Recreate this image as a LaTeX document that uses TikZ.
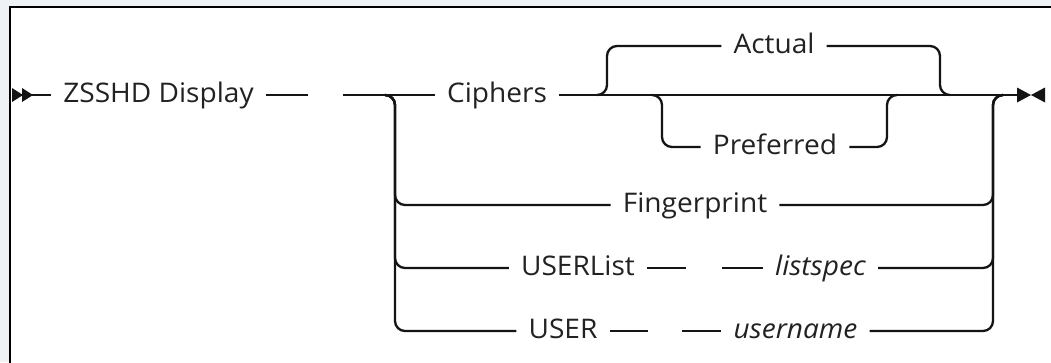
\documentclass[tikz,border=0pt]{standalone}
\usepackage{fontspec}
\setmainfont{Open Sans}[FakeStretch=1.04]
\definecolor{pagebg}{HTML}{EEF2F5}
\definecolor{railc}{HTML}{141414}
\definecolor{labelc}{HTML}{222222}

\begin{document}
% anchors such as "mid" are measured in the surrounding font
\fontsize{27}{31}\selectfont
\begin{tikzpicture}[x=1pt,y=-1pt,
  rail/.style={line width=2.3pt, draw=railc, rounded corners=10pt},
  kw/.style={anchor=mid, inner xsep=12pt, inner ysep=0pt, text=labelc,
    font=\fontsize{27}{31}\selectfont},
  var/.style={kw, font=\fontsize{27}{31}\selectfont\itshape},
  tip/.style={fill=railc}]
\useasboundingbox (0,0) rectangle (1051,362);
\clip (0,0) rectangle (1051,362);
\fill[pagebg] (0,0) rectangle (1051,362);
\draw[line width=2.8pt, fill=white] (10,7) rectangle (1080,400);

% labels
\node[kw]  (disp) at (158.5,95) {ZSSHD Display};
\node[kw]  (ciph) at (497,95)   {Ciphers};
\node[kw]  (act)  at (774,46)   {Actual};
\node[kw]  (pref) at (775,147)  {Preferred};
\node[kw]  (fp)   at (695,205)  {Fingerprint};
\node[kw]  (ul)   at (578,268)  {USERList};
\node[var] (ls)   at (820.5,268){listspec};
\node[kw]  (us)   at (563,331)  {USER};
\node[var] (un)   at (795.5,331){username};

% junction points
\coordinate (st)   at (31,95);
\coordinate (d1)   at (308,95);
\coordinate (m0)   at (343,95);
\coordinate (fork) at (385,95);
\coordinate (lcol) at (395,95);
\coordinate (rcol) at (993,95);
\coordinate (join) at (1003,95);
\coordinate (fin)  at (1017,95);
\coordinate (aF) at (597,95);
\coordinate (aL) at (607,95);
\coordinate (aR) at (940,95);
\coordinate (aJ) at (950,95);
\coordinate (pF) at (652,95);
\coordinate (pL) at (662,95);
\coordinate (pR) at (887,95);
\coordinate (pJ) at (897,95);
\coordinate (u1) at (686,268);
\coordinate (u2) at (722,268);
\coordinate (s1) at (648,331);
\coordinate (s2) at (682,331);

% main line
\draw[rail] (st) -- (disp.mid west);
\draw[rail] (disp.mid east) -- (d1);
\draw[rail] (m0) -- (ciph.mid west);
\draw[rail] (ciph.mid east) -- (fin);

% Actual / Preferred
\draw[rail] (aF) -- (aL) -- (aL |- act.mid west) -- (act.mid west);
\draw[rail] (act.mid east) -- (aR |- act.mid east) -- (aR) -- (aJ);
\draw[rail] (pF) -- (pL) -- (pL |- pref.mid west) -- (pref.mid west);
\draw[rail] (pref.mid east) -- (pR |- pref.mid east) -- (pR) -- (pJ);

% lower choices
\draw[rail] (fork) -- (lcol) -- (lcol |- fp.mid west) -- (fp.mid west);
\draw[rail] (fork) -- (lcol) -- (lcol |- ul.mid west) -- (ul.mid west);
\draw[rail] (fork) -- (lcol) -- (lcol |- us.mid west) -- (us.mid west);
\draw[rail] (fp.mid east) -- (rcol |- fp.mid east) -- (rcol) -- (join);
\draw[rail] (ls.mid east) -- (rcol |- ls.mid east) -- (rcol) -- (join);
\draw[rail] (un.mid east) -- (rcol |- un.mid east) -- (rcol) -- (join);

% separated dashes
\draw[rail] (ul.mid east) -- (u1);
\draw[rail] (u2) -- (ls.mid west);
\draw[rail] (us.mid east) -- (s1);
\draw[rail] (s2) -- (un.mid west);

% start and end marks
\fill[tip] (12,88) -- (23,95) -- (12,102) -- cycle;
\fill[tip] (22,88) -- (33,95) -- (22,102) -- cycle;
\fill[tip] (fin) ++(0,-7.5) -- ++(14,7.5) -- ++(-14,7.5) -- cycle;
\fill[tip] (1045,87.5) -- (1031,95) -- (1045,102.5) -- cycle;
\end{tikzpicture}
\end{document}
